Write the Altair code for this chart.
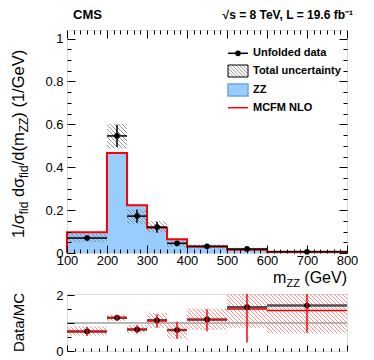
import altair as alt
import pandas as pd

# ---------------- data ----------------
bin_lo = [100, 200, 250, 300, 350, 400, 500, 600]
bin_hi = [200, 250, 300, 350, 400, 500, 600, 800]
bin_center = [150, 225, 275, 325, 375, 450, 550, 700]
mcfm_nlo = [0.097, 0.466, 0.223, 0.118, 0.064, 0.029, 0.015, 0.006]
data_val = [0.070, 0.546, 0.172, 0.121, 0.045, 0.031, 0.019, 0.006]
data_err_lo = [0.060, 0.494, 0.141, 0.095, 0.036, 0.025, 0.013, 0.003]
data_err_hi = [0.080, 0.598, 0.203, 0.146, 0.053, 0.036, 0.024, 0.009]
unc_lo = [0.050, 0.487, 0.136, 0.095, 0.028, 0.020, 0.012, 0.003]
unc_hi = [0.090, 0.603, 0.203, 0.149, 0.059, 0.040, 0.025, 0.009]

ratio_val = [0.70, 1.19, 0.77, 1.10, 0.75, 1.13, 1.57, 1.63]
ratio_red = [0.70, 1.19, 0.77, 1.08, 0.75, 1.12, 1.50, 1.45]
ratio_err_lo = [0.54, 1.07, 0.63, 0.83, 0.44, 0.71, 0.30, 0.65]
ratio_err_hi = [0.86, 1.31, 0.92, 1.31, 1.05, 1.49, 2.10, 2.10]
ratio_unc_lo = [0.55, 1.08, 0.63, 0.83, 0.44, 0.75, 0.83, 0.63]
ratio_unc_hi = [0.88, 1.30, 0.93, 1.35, 1.05, 1.51, 2.10, 2.10]

x_major = [100, 200, 300, 400, 500, 600, 700, 800]
y_major_main = [0, 0.2, 0.4, 0.6, 0.8, 1]
y_major_ratio = [0, 1, 2]
legend_labels = ["Unfolded data", "Total uncertainty", "ZZ", "MCFM NLO"]

# ---------------- layout / style ----------------
W, HM, HR = 280, 223, 57
XD, YM, YR = [100, 800], [0, 1.04], [0, 2.04]
FONT = "Liberation Sans"
BLUE = "#99ccff"
RED = "#ff0000"

xs = alt.Scale(domain=XD, nice=False, zero=False)
ysm = alt.Scale(domain=YM, nice=False, zero=False)
ysr = alt.Scale(domain=YR, nice=False, zero=False)

df = pd.DataFrame(dict(lo=bin_lo, hi=bin_hi, c=bin_center, mc=mcfm_nlo, v=data_val,
                       elo=data_err_lo, ehi=data_err_hi, zero=[0.0] * 8,
                       rv=ratio_val, rr=ratio_red, relo=ratio_err_lo, rehi=ratio_err_hi))

step_x = [bin_lo[0]] + bin_lo + [bin_hi[-1]]
step_y = [0.0] + mcfm_nlo + [mcfm_nlo[-1]]
step_df = pd.DataFrame(dict(x=step_x, y=step_y, i=list(range(len(step_x)))))


def hatch(lo_x, hi_x, lo_y, hi_y, ydom, height, step=4.0):
    """diagonal hatch segments inside boxes, in data units"""
    sx = W / (XD[1] - XD[0])
    sy = height / (ydom[1] - ydom[0])
    rows = []
    for x0, x1, y0, y1 in zip(lo_x, hi_x, lo_y, hi_y):
        y0 = max(y0, ydom[0]); y1 = min(y1, ydom[1])
        px0, px1 = (x0 - XD[0]) * sx, (x1 - XD[0]) * sx
        py0, py1 = (y0 - ydom[0]) * sy, (y1 - ydom[0]) * sy
        k = int((px0 + py0) // step) + 1
        c = k * step
        while c < px1 + py1:
            xa = max(px0, c - py1); xb = min(px1, c - py0)
            if xb > xa:
                rows.append(dict(x=XD[0] + xa / sx, y=ydom[0] + (c - xa) / sy,
                                 x2=XD[0] + xb / sx, y2=ydom[0] + (c - xb) / sy))
            c += step
    return pd.DataFrame(rows)


def tick_axis(orient, offset, values, test, major, minor):
    return alt.Axis(orient=orient, offset=offset, values=values, labels=False, domain=False,
                    grid=False, title=None, ticks=True, tickColor="black", tickWidth=1,
                    tickSize={"condition": {"test": test, "value": major}, "value": minor},
                    zindex=2)


one = pd.DataFrame({"a": [0]})


def txt(text, x, y, size, bold=False, align="left", baseline="middle", angle=0):
    kw = dict(text=text, fontSize=size, font=FONT, align=align, baseline=baseline,
              color="black", fontWeight="bold" if bold else "normal")
    if angle:
        kw["angle"] = angle
    return alt.Chart(one).mark_text(**kw).encode(x=alt.value(x), y=alt.value(y))


CW = {'1': .556, '/': .278, 'σ': .6, 'f': .278, 'i': .222, 'd': .556, '(': .333, 'm': .833,
      ')': .333, 'G': .778, 'e': .556, 'V': .667, 'Z': .611, ' ': .278}


def tw(s, size):
    return sum(CW.get(ch, .556) for ch in s) * size

# ---------------- main panel ----------------
zz = alt.Chart(df).mark_rect(fill=BLUE).encode(
    x=alt.X("lo:Q", scale=xs, axis=None), x2="hi:Q",
    y=alt.Y("mc:Q", scale=ysm, axis=None), y2="zero:Q")

step_line = alt.Chart(step_df).mark_line(color=RED, strokeWidth=2, interpolate="step-after").encode(
    x=alt.X("x:Q", scale=xs, axis=None), y=alt.Y("y:Q", scale=ysm, axis=None), order="i:Q")

hm = hatch(bin_lo, bin_hi, unc_lo, unc_hi, YM, HM)
hatch_main = alt.Chart(hm).mark_rule(color="#808080", strokeWidth=0.8).encode(
    x=alt.X("x:Q", scale=xs, axis=None), x2="x2:Q",
    y=alt.Y("y:Q", scale=ysm, axis=None), y2="y2:Q")

xerr = alt.Chart(df).mark_rule(color="black", strokeWidth=1.5).encode(
    x=alt.X("lo:Q", scale=xs, axis=None), x2="hi:Q", y=alt.Y("v:Q", scale=ysm, axis=None))
yerr = alt.Chart(df).mark_rule(color="black", strokeWidth=1.5).encode(
    x=alt.X("c:Q", scale=xs, axis=None), y=alt.Y("elo:Q", scale=ysm, axis=None), y2="ehi:Q")
pts = alt.Chart(df).mark_circle(color="black", opacity=1, size=32).encode(
    x=alt.X("c:Q", scale=xs, axis=None), y=alt.Y("v:Q", scale=ysm, axis=None))

x_ticks_main = [round(100 + k * 100 / 6, 4) if k % 6 else 100 + k // 6 * 100 for k in range(43)]
y_ticks_main = [round(i * 0.05, 2) for i in range(21)]
xtest = "abs(datum.value % 100) < 0.001"
ytest_main = "abs(datum.value * 5 - round(datum.value * 5)) < 0.001"

lab_main = alt.Chart(df).mark_point(opacity=0).encode(
    x=alt.X("c:Q", scale=xs, axis=alt.Axis(values=x_major, ticks=False, tickSize=0, domain=False,
                                            grid=False, title=None, labelFontSize=13, labelPadding=1,
                                            labelFlush=False, labelOverlap=False, labelFont=FONT,
                                            labelColor="black", format="d")),
    y=alt.Y("v:Q", scale=ysm, axis=alt.Axis(values=y_major_main, ticks=False, tickSize=0, domain=False,
                                             grid=False, title=None, labelFontSize=13, labelPadding=4,
                                             labelFlush=False, labelOverlap=False, labelFont=FONT,
                                             labelColor="black", format="~g")))
tk1_main = alt.Chart(df).mark_point(opacity=0).encode(
    x=alt.X("c:Q", scale=xs, axis=tick_axis("top", -HM, x_ticks_main, xtest, 8, 4)),
    y=alt.Y("v:Q", scale=ysm, axis=tick_axis("right", -W, y_ticks_main, ytest_main, 8, 4)))
tk2_main = alt.Chart(df).mark_point(opacity=0).encode(
    x=alt.X("c:Q", scale=xs, axis=tick_axis("bottom", -HM, x_ticks_main, xtest, 8, 4)),
    y=alt.Y("v:Q", scale=ysm, axis=tick_axis("left", -W, y_ticks_main, ytest_main, 8, 4)))

# legend (decoration, pixel positions inside the main panel)
LX0, LX1, LTX = 161, 181, 186
rows_y = [23.3, 41, 60, 77.7]
legend = []
legend.append(alt.Chart(one).mark_rule(color="black", strokeWidth=1.5).encode(
    x=alt.value(LX0), x2=alt.value(LX1), y=alt.value(rows_y[0])))
legend.append(alt.Chart(one).mark_circle(color="black", opacity=1, size=32).encode(
    x=alt.value((LX0 + LX1) / 2), y=alt.value(rows_y[0])))
by0, by1 = rows_y[1] - 6, rows_y[1] + 6
k = by0 - LX1 + 2
while k < by1 - LX0:
    xa = max(LX0, by0 - k); xb = min(LX1, by1 - k)
    if xb > xa:
        legend.append(alt.Chart(one).mark_rule(color="#808080", strokeWidth=0.8).encode(
            x=alt.value(xa), x2=alt.value(xb), y=alt.value(xa + k), y2=alt.value(xb + k)))
    k += 3.5
legend.append(alt.Chart(one).mark_rect(fill="transparent", stroke="black", strokeWidth=1).encode(
    x=alt.value(LX0), x2=alt.value(LX1), y=alt.value(by0), y2=alt.value(by1)))
legend.append(alt.Chart(one).mark_rect(fill=BLUE, stroke="#6aa6e8", strokeWidth=1.5).encode(
    x=alt.value(LX0), x2=alt.value(LX1), y=alt.value(rows_y[2] - 6), y2=alt.value(rows_y[2] + 6)))
legend.append(alt.Chart(one).mark_rule(color=RED, strokeWidth=1.5).encode(
    x=alt.value(LX0), x2=alt.value(LX1), y=alt.value(rows_y[3])))
for lbl, yy in zip(legend_labels, rows_y):
    legend.append(txt(lbl, LTX, yy, 11, bold=True))

# titles
texts = [txt("CMS", 6, -15, 13, bold=True),
         txt("√s = 8 TeV, L = 19.6 fb⁻¹", 286, -15, 12, bold=True, align="right")]
# x title: m_ZZ (GeV), right aligned at the plot's right edge
XT, XS, XB = 16, 11, 253
pos = W
texts.append(txt("(GeV)", pos, XB, XT, align="right", baseline="alphabetic"))
pos -= tw("(GeV)", XT) + tw(" ", XT)
texts.append(txt("ZZ", pos, XB + 4, XS, align="right", baseline="alphabetic"))
pos -= tw("ZZ", XS)
texts.append(txt("m", pos, XB, XT, align="right", baseline="alphabetic"))

# y title: 1/σ_fid dσ_fid/d(m_ZZ) (1/GeV), rotated
YT, YS, YBX, Y0 = 16.5, 12, -43, 208
pieces = [("1/σ", False), ("fid", True), (" ", None), ("dσ", False), ("fid", True),
          ("/d(m", False), ("ZZ", True), (")", False), (" ", None), ("(1/GeV)", False)]
yy = Y0
for s, sub in pieces:
    if sub is None:
        yy -= tw(s, YT)
        continue
    size = YS if sub else YT
    texts.append(txt(s, YBX + (4 if sub else 0), yy, size, align="left", baseline="alphabetic", angle=270))
    yy -= tw(s, size)

main = alt.layer(zz, hatch_main, step_line, xerr, yerr, pts, lab_main, tk1_main, tk2_main,
                 *legend, *texts).resolve_axis(x="independent", y="independent").properties(width=W, height=HM)

# ---------------- ratio panel ----------------
hr = hatch(bin_lo, bin_hi, ratio_unc_lo, ratio_unc_hi, YR, HR)
hatch_ratio = alt.Chart(hr).mark_rule(color="#ff7070", strokeWidth=0.8).encode(
    x=alt.X("x:Q", scale=xs, axis=None), x2="x2:Q",
    y=alt.Y("y:Q", scale=ysr, axis=None), y2="y2:Q")
one_line = alt.Chart(one).mark_rule(color="#a0a0a0", strokeWidth=1.5).encode(
    y=alt.Y(datum=1, scale=ysr, axis=None))
gray_lines = alt.Chart(df).mark_rule(color="#505050", strokeWidth=2.5).encode(
    x=alt.X("lo:Q", scale=xs, axis=None), x2="hi:Q", y=alt.Y("rv:Q", scale=ysr, axis=None))
red_lines = alt.Chart(df).mark_rule(color=RED, strokeWidth=1.5).encode(
    x=alt.X("lo:Q", scale=xs, axis=None), x2="hi:Q", y=alt.Y("rr:Q", scale=ysr, axis=None))
rpts = alt.Chart(df).mark_circle(color="black", opacity=1, size=32).encode(
    x=alt.X("c:Q", scale=xs, axis=None), y=alt.Y("rv:Q", scale=ysr, axis=None))
ryerr = alt.Chart(df).mark_rule(color=RED, strokeWidth=1.5, clip=True).encode(
    x=alt.X("c:Q", scale=xs, axis=None), y=alt.Y("relo:Q", scale=ysr, axis=None), y2="rehi:Q")

x_ticks_ratio = [100 + 20 * k for k in range(36)]
y_ticks_ratio = [0, 0.5, 1, 1.5, 2]
lab_ratio = alt.Chart(df).mark_point(opacity=0).encode(
    x=alt.X("c:Q", scale=xs, axis=None),
    y=alt.Y("rv:Q", scale=ysr, axis=alt.Axis(values=y_major_ratio, ticks=False, tickSize=0, domain=False,
                                              grid=False, title=None, labelFontSize=13, labelPadding=4,
                                              labelFlush=False, labelOverlap=False, labelFont=FONT,
                                              labelColor="black", format="d")))
tk_ratio = alt.Chart(df).mark_point(opacity=0).encode(
    x=alt.X("c:Q", scale=xs, axis=tick_axis("top", -HR, x_ticks_ratio, xtest, 6, 3)),
    y=alt.Y("rv:Q", scale=ysr, axis=tick_axis("right", -W, y_ticks_ratio,
                                               "abs(datum.value - round(datum.value)) < 0.001", 7, 4)))
ratio_title = txt("Data/MC", YBX, HR / 2, 15, align="center", baseline="alphabetic", angle=270)

ratio = alt.layer(hatch_ratio, one_line, gray_lines, red_lines, rpts, ryerr, lab_ratio, tk_ratio,
                  ratio_title).resolve_axis(x="independent", y="independent").properties(width=W, height=HR)

chart = alt.vconcat(main, ratio, spacing=41, bounds="flush").properties(
    padding={"left": 2, "top": 0, "right": 5, "bottom": 5}
).configure_view(stroke="black", strokeWidth=1.2).configure(font=FONT)

chart.save("out.html", embed_options={"renderer": "svg", "actions": False})
